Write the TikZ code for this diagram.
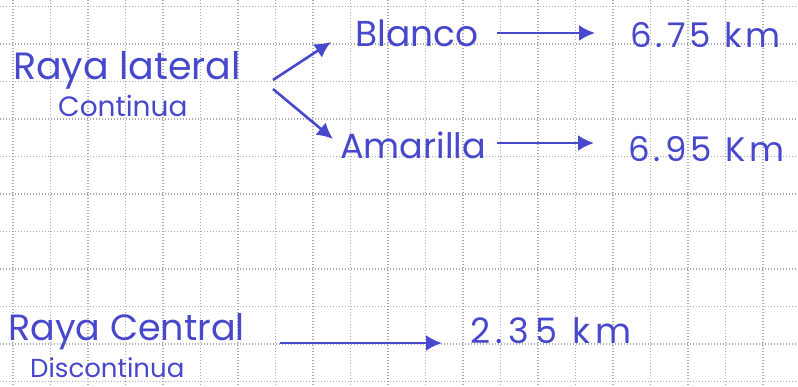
\documentclass[tikz,border=0pt]{standalone}
\usepackage{fontspec}
\setmainfont{Poppins}
\usetikzlibrary{arrows.meta}
\definecolor{ink}{RGB}{72,72,205}
\definecolor{gridc}{RGB}{170,170,170}
\newfontfamily\numfont[LetterSpace=12]{Poppins}
\newfontfamily\numwide[LetterSpace=16]{Poppins}
\tikzset{
  hand/.style={inner sep=0pt, anchor=base west, text=ink},
  big/.style={font=\fontsize{36}{38}\selectfont},
  mid/.style={font=\fontsize{28}{30}\selectfont},
  num/.style={font=\numfont\fontsize{34}{36}\selectfont},
  pen/.style={draw=ink, line width=2.6pt, -{Latex[length=16pt,width=16pt]}},
  gridline/.style={draw=gridc, line width=1.1pt, dash pattern=on 1.2pt off 1.8pt}
}
\begin{document}
\begin{tikzpicture}[x=1pt,y=-1pt]
\fill[white] (0,0) rectangle (798,386);
\useasboundingbox (0,0) rectangle (798,386);
% grid
\foreach \k in {0,...,21} {\draw[gridline] ({13+37.5*\k},0) -- ({13+37.5*\k},386);}
\foreach \k in {0,...,10} {\draw[gridline] (0,{6.5+37.5*\k}) -- (798,{6.5+37.5*\k});}
% texts
\node[hand,font=\fontsize{38}{40}\selectfont] (rl) at (13,79) {Raya lateral};
\node[hand,mid] (cont) at (58,116) {Continua};
\node[hand,big] (blanco) at (355,46) {Blanco};
\node[hand,num] (km1) at (630,47) {6.75 km};
\node[hand,font=\fontsize{35}{37}\selectfont] (amar) at (340,158) {Amarilla};
\node[hand,num] (km2) at (628,161) {6.95 Km};
\node[hand,font=\fontsize{36.5}{38}\selectfont] (rc) at (8,340) {Raya Central};
\node[hand,font=\fontsize{26}{28}\selectfont] (disc) at (30,377) {Discontinua};
\node[hand,font=\numwide\fontsize{35}{37}\selectfont] (km3) at (470,343) {2.35 km};
% arrow ends
\coordinate (a1s) at (273,80);
\coordinate (a1e) at (331,42);
\coordinate (a2s) at (273,89);
\coordinate (a2e) at (333,139);
\coordinate (a3s) at (497,33);
\coordinate (a3e) at (595,33);
\coordinate (a4s) at (497,143);
\coordinate (a4e) at (594,143);
\coordinate (a5s) at (280,343);
\coordinate (a5e) at (442,343);
\draw[pen] (a1s) -- (a1e);
\draw[pen] (a2s) -- (a2e);
\draw[pen] (a3s) -- (a3e);
\draw[pen] (a4s) -- (a4e);
\draw[pen] (a5s) -- (a5e);
\end{tikzpicture}
\end{document}
